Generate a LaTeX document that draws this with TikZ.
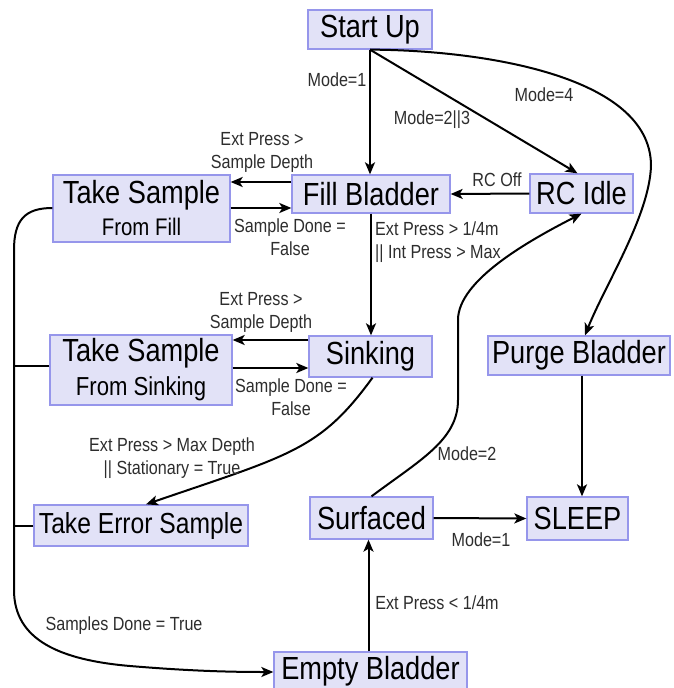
\documentclass[tikz,border=0pt]{standalone}
\usepackage{fontspec}
\setmainfont{Liberation Sans}
\newfontfamily\nar[FakeStretch=0.85]{Liberation Sans}
\usetikzlibrary{arrows.meta}
\definecolor{boxfill}{RGB}{226,226,247}
\definecolor{boxline}{RGB}{150,150,235}
\definecolor{lblcol}{RGB}{45,45,45}
\begin{document}
\begin{tikzpicture}[x=1pt,y=-1pt,
  state/.style={draw=boxline, fill=boxfill, line width=1.3pt, inner sep=0pt,
    font=\nar\fontsize{32}{33}\selectfont, text=black, align=center},
  lbl/.style={font=\nar\fontsize{19}{23}\selectfont, text=lblcol, inner sep=0pt, align=center},
  arr/.style={-{Stealth[length=12pt,width=10pt,inset=3pt]}, line width=2pt},
  ln/.style={line width=2pt}]
\useasboundingbox (0,0) rectangle (673,688);

% states
\node[state, minimum width=124pt, minimum height=39pt] (start) at (370,29.5) {Start Up};
\node[state, minimum width=177pt, minimum height=67pt] (tsfill) at (141.5,208.5) {Take Sample\\[-1pt]{\fontsize{24}{24}\selectfont From Fill}};
\node[state, minimum width=158pt, minimum height=38pt] (fill) at (371,194) {Fill Bladder};
\node[state, minimum width=103pt, minimum height=39pt] (rcidle) at (581.5,193.5) {RC Idle};
\node[state, minimum width=182pt, minimum height=70pt] (tssink) at (141,370) {Take Sample\\[1pt]{\fontsize{26}{26}\selectfont From Sinking}};
\node[state, minimum width=123pt, minimum height=41pt] (sinking) at (370.5,356.5) {Sinking};
\node[state, minimum width=182pt, minimum height=39pt] (purge) at (579,355.5) {Purge Bladder};
\node[state, minimum width=214pt, minimum height=41pt, font=\nar\fontsize{29}{30}\selectfont] (error) at (141,525.5) {Take Error Sample};
\node[state, minimum width=123pt, minimum height=42pt] (surfaced) at (371.5,518) {Surfaced};
\node[state, minimum width=101pt, minimum height=43pt] (sleep) at (577.5,518.5) {SLEEP};
\node[state, minimum width=193pt, minimum height=38pt] (empty) at (370.5,671) {Empty Bladder};

% trunk coordinates
\coordinate (trunkS) at (14,366);
\coordinate (trunkE) at (14,525.5);

% connectors
\draw[arr] (start.south) -- (start.south |- fill.north);
\draw[arr] (start.south) -- ([xshift=-4pt]rcidle.north);
\draw[arr] (start.south) .. controls (480,50) and (650,75) .. (651,165)
  .. controls (650,215) and (605,285) .. ([xshift=6pt]purge.north);
\draw[arr] (fill.west |- 0,182) -- (tsfill.east |- 0,182);
\draw[arr] (tsfill.east |- 0,208) -- (fill.west |- 0,208);
\draw[arr] (rcidle.west) -- (fill.east);
\draw[arr] (fill.south) -- (fill.south |- sinking.north);
\draw[arr] (sinking.west |- 0,340) -- (tssink.east |- 0,340);
\draw[arr] (tssink.east |- 0,368) -- (sinking.west |- 0,368);
\draw[arr] ([xshift=2pt]sinking.south) .. controls (320,450) and (290,455) .. ([xshift=5pt]error.north);
\draw[arr] (surfaced.north) .. controls (420,460) and (458,440) .. (458,400) -- (458,320)
  .. controls (458,280) and (530,240) .. (rcidle.south);
\draw[arr] (surfaced.east) -- (sleep.west);
\draw[arr] ([xshift=3pt]purge.south) -- ([xshift=3pt]purge.south |- sleep.north);
\draw[arr] ([xshift=-2pt]empty.north) -- ([xshift=-2pt]empty.north |- surfaced.south);
\draw[arr] (tsfill.west |- 0,208) .. controls (25,208) and (14,220) .. (14,250) -- (14,590)
  .. controls (14,640) and (60,660) .. (130,666) .. controls (190,671) and (230,672) .. (empty.west |- 0,672);
\draw[ln] (tssink.west |- trunkS) -- (trunkS);
\draw[ln] (error.west) -- (trunkE);

% labels
\node[lbl] (l1) at (337,80) {Mode=1};
\node[lbl] (l2) at (432,120) {Mode=2||3};
\node[lbl] (l3) at (544,95) {Mode=4};
\node[lbl] (l4) at (262,152) {Ext Press >\\Sample Depth};
\node[lbl] (l5) at (290,237.5) {Sample Done =\\False};
\node[lbl] (l6) at (497,180) {RC Off};
\node[lbl, align=left, anchor=west] (l7) at (375,242.5) {Ext Press > 1/4m\\|| Int Press > Max};
\node[lbl] (l8) at (261,312.5) {Ext Press >\\Sample Depth};
\node[lbl] (l9) at (291,397) {Sample Done =\\False};
\node[lbl] (l10) at (172,458) {Ext Press > Max Depth\\|| Stationary = True};
\node[lbl] (l11) at (467,454) {Mode=2};
\node[lbl] (l12) at (481,540) {Mode=1};
\node[lbl] (l13) at (437,603) {Ext Press < 1/4m};
\node[lbl] (l14) at (124,626) {Samples Done = True};
\end{tikzpicture}
\end{document}
